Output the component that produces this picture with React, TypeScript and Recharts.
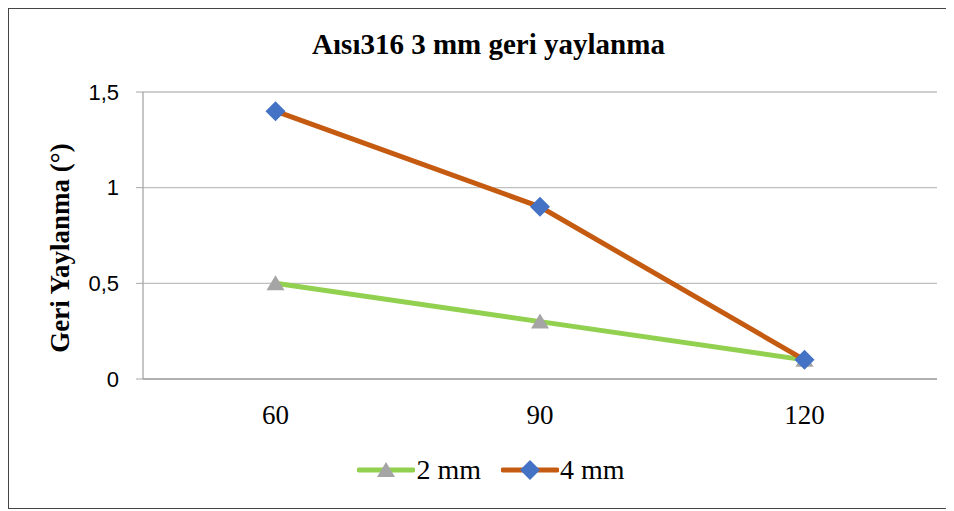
import { LineChart, Line, XAxis, YAxis, CartesianGrid, Legend } from "recharts";

const angles = ["60", "90", "120"];
const mm2 = [0.5, 0.3, 0.1];
const mm4 = [1.4, 0.9, 0.1];
const yTicks = [0, 0.5, 1, 1.5];

const data = angles.map((a, i) => ({ angle: a, mm2: mm2[i], mm4: mm4[i] }));

const GREEN = "#92D050";
const ORANGE = "#C55A11";
const GREY = "#A5A5A5";
const BLUE = "#4472C4";
const SERIF = "'Liberation Serif', 'DejaVu Serif', serif";

function Triangle({ cx, cy }: any) {
  if (cx == null || cy == null) return null;
  return <polygon points={`${cx},${cy - 8} ${cx + 9},${cy + 7} ${cx - 9},${cy + 7}`} fill={GREY} />;
}

function Diamond({ cx, cy }: any) {
  if (cx == null || cy == null) return null;
  return <polygon points={`${cx},${cy - 10} ${cx + 10},${cy} ${cx},${cy + 10} ${cx - 10},${cy}`} fill={BLUE} />;
}

function LegendBox() {
  const items = [
    { label: "2 mm", color: GREEN, marker: "tri" },
    { label: "4 mm", color: ORANGE, marker: "dia" },
  ];
  return (
    <div style={{ height: 40, display: "flex", justifyContent: "center", alignItems: "center", gap: 20 }}>
      {items.map((it) => (
        <div key={it.label} style={{ display: "flex", alignItems: "center" }}>
          <svg width={58} height={24}>
            <line x1={2} y1={12} x2={56} y2={12} stroke={it.color} strokeWidth={5} strokeLinecap="round" />
            {it.marker === "tri" ? <Triangle cx={29} cy={12} /> : <Diamond cx={29} cy={12} />}
          </svg>
          <span style={{ fontFamily: SERIF, fontSize: 28, color: "#000", marginLeft: 1 }}>{it.label}</span>
        </div>
      ))}
    </div>
  );
}

export default function App() {
  return (
    <div style={{ position: "relative", width: 937, height: 499, border: "1px solid #444", background: "#fff" }}>
      <div
        style={{
          position: "absolute",
          left: 11,
          top: 21,
          width: 937,
          textAlign: "center",
          fontFamily: SERIF,
          fontWeight: "bold",
          fontSize: 29,
          lineHeight: 1,
        }}
      >
        Aısı316 3 mm geri yaylanma
      </div>
      <div
        style={{
          position: "absolute",
          left: 51,
          top: 239,
          transform: "translate(-50%, -50%) rotate(-90deg)",
          whiteSpace: "nowrap",
          fontFamily: SERIF,
          fontWeight: "bold",
          fontSize: 27,
          lineHeight: 1,
        }}
      >
        Geri Yaylanma (°)
      </div>
      <LineChart width={937} height={499} data={data} margin={{ top: 83, right: 9, left: 74, bottom: 59 }}>
        <CartesianGrid vertical={false} stroke="#BFBFBF" strokeWidth={1.3} />
        <XAxis
          dataKey="angle"
          padding={{ left: 132.5, right: 132.5 }}
          tickLine={false}
          axisLine={{ stroke: "#A6A6A6", strokeWidth: 1.3 }}
          tick={{ fontFamily: SERIF, fontSize: 27, fill: "#000" }}
          tickMargin={20}
          height={30}
        />
        <YAxis
          width={60}
          domain={[0, 1.5]}
          ticks={yTicks}
          tickFormatter={(v: number) => String(v).replace(".", ",")}
          tickSize={7}
          tickMargin={17}
          tickLine={{ stroke: "#A6A6A6" }}
          axisLine={{ stroke: "#A6A6A6", strokeWidth: 1.3 }}
          tick={{ fontFamily: "'Liberation Sans', Arial, sans-serif", fontSize: 22, fill: "#000" }}
        />
        <Legend verticalAlign="bottom" content={() => <LegendBox />} wrapperStyle={{ left: 30, width: 904, bottom: 18 }} />
        <Line dataKey="mm2" name="2 mm" stroke={GREEN} strokeWidth={5} dot={<Triangle />} activeDot={false} isAnimationActive={false} />
        <Line dataKey="mm4" name="4 mm" stroke={ORANGE} strokeWidth={5} dot={<Diamond />} activeDot={false} isAnimationActive={false} />
      </LineChart>
    </div>
  );
}
